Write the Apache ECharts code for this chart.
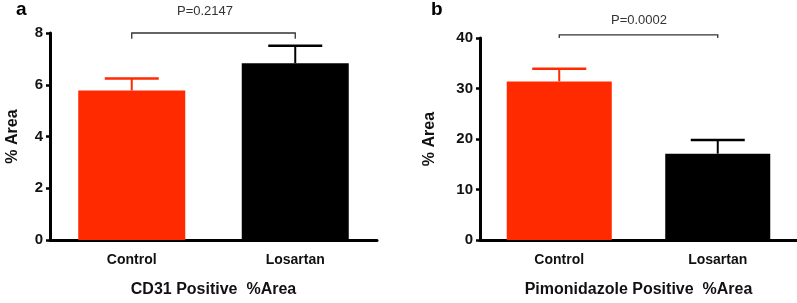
<!DOCTYPE html>
<html>
<head>
<meta charset="utf-8">
<script src="https://cdn.jsdelivr.net/npm/echarts@6/dist/echarts.min.js"></script>
<style>
  html, body { margin: 0; padding: 0; background: #fff; }
  #chart { width: 797px; height: 303px; }
</style>
</head>
<body>
<div id="chart"></div>
<script>
// 数据
var categories = ['Control', 'Losartan'];
var barColors = ['#ff2a00', '#000000'];

var cd31Mean = [5.78, 6.83];
var cd31Err = [0.46, 0.68];
var cd31Ticks = [0, 2, 4, 6, 8];
var cd31P = 'P=0.2147';
var cd31Bracket = [8.0, 7.78];   // 横线高度, 竖脚末端

var pimoMean = [31.4, 17.1];
var pimoErr = [2.5, 2.7];
var pimoTicks = [0, 10, 20, 30, 40];
var pimoP = 'P=0.0002';
var pimoBracket = [40.6, 40.0];

var FONT = '"Liberation Sans", Arial, sans-serif';

var chart = echarts.init(document.getElementById('chart'));

function barData(means) {
    return means.map(function(v, i) {
        return { value: v, itemStyle: { color: barColors[i] } };
    });
}

function errData(means, errs) {
    return means.map(function(v, i) { return [i, v, v + errs[i]]; });
}

// 误差线
function renderErr(params, api) {
    var i = api.value(0);
    var p0 = api.coord([i, api.value(1)]);
    var p1 = api.coord([i, api.value(2)]);
    var color = barColors[i];
    var half = 27;
    return {
        type: 'group',
        children: [
            { type: 'line', shape: { x1: p0[0], y1: p0[1], x2: p1[0], y2: p1[1] },
              style: { stroke: color, lineWidth: 2 } },
            { type: 'line', shape: { x1: p1[0] - half, y1: p1[1], x2: p1[0] + half, y2: p1[1] },
              style: { stroke: color, lineWidth: 2.5 } }
        ]
    };
}

// 显著性括号
function renderBracket(params, api) {
    var a = api.coord([api.value(0), api.value(2)]);
    var b = api.coord([api.value(1), api.value(2)]);
    var a2 = api.coord([api.value(0), api.value(3)]);
    var b2 = api.coord([api.value(1), api.value(3)]);
    return {
        type: 'polyline',
        shape: { points: [[a2[0], a2[1]], [a[0], a[1]], [b[0], b[1]], [b2[0], b2[1]]] },
        style: { stroke: '#333', lineWidth: 1.3, fill: null }
    };
}

function xAxisCfg(gi, name) {
    return {
        type: 'category',
        gridIndex: gi,
        data: categories,
        axisLine: { lineStyle: { color: '#000', width: 3 } },
        axisTick: { alignWithLabel: true, length: 5, lineStyle: { color: '#000', width: 2.5 }, interval: 0 },
        axisLabel: { color: '#111', fontFamily: FONT, fontWeight: 'bold', fontSize: 14, margin: 13 },
        name: name,
        nameLocation: 'middle',
        nameGap: 42,
        nameTextStyle: { color: '#111', fontFamily: FONT, fontWeight: 'bold', fontSize: 16 }
    };
}

function yAxisCfg(gi, ticks, gap) {
    return {
        type: 'value',
        gridIndex: gi,
        min: ticks[0],
        max: ticks[ticks.length - 1],
        interval: ticks[1] - ticks[0],
        splitLine: { show: false },
        axisLine: { show: true, lineStyle: { color: '#000', width: 3 } },
        axisTick: { show: true, length: 4, lineStyle: { color: '#000', width: 2.5 } },
        axisLabel: { color: '#111', fontFamily: FONT, fontWeight: 'bold', fontSize: 15, margin: 7 },
        name: '% Area',
        nameLocation: 'middle',
        nameRotate: 90,
        nameGap: gap,
        nameTextStyle: { color: '#111', fontFamily: FONT, fontWeight: 'bold', fontSize: 16 }
    };
}

var option = {
    animation: false,
    backgroundColor: '#fff',
    grid: [
        { left: 50, top: 33, width: 327, height: 214 },
        { left: 480, top: 38, width: 317, height: 210 }
    ],
    xAxis: [xAxisCfg(0, 'CD31 Positive  %Area'), xAxisCfg(1, 'Pimonidazole Positive  %Area')],
    yAxis: [yAxisCfg(0, cd31Ticks, 29), yAxisCfg(1, pimoTicks, 42)],
    graphic: [
        { type: 'text', left: 16, top: 0, style: { text: 'a', font: 'bold 19px ' + FONT, fill: '#000' } },
        { type: 'text', left: 431, top: 0, style: { text: 'b', font: 'bold 19px ' + FONT, fill: '#000' } },
        { type: 'text', x: 205, y: 11, style: { text: cd31P, font: '13px ' + FONT, fill: '#333', align: 'center', verticalAlign: 'middle' } },
        { type: 'text', x: 639, y: 20, style: { text: pimoP, font: '13px ' + FONT, fill: '#333', align: 'center', verticalAlign: 'middle' } }
    ],
    series: [
        { type: 'bar', xAxisIndex: 0, yAxisIndex: 0, barWidth: 107, data: barData(cd31Mean) },
        { type: 'bar', xAxisIndex: 1, yAxisIndex: 1, barWidth: 105, data: barData(pimoMean) },
        { type: 'custom', xAxisIndex: 0, yAxisIndex: 0, renderItem: renderErr, data: errData(cd31Mean, cd31Err), z: 3 },
        { type: 'custom', xAxisIndex: 1, yAxisIndex: 1, renderItem: renderErr, data: errData(pimoMean, pimoErr), z: 3 },
        { type: 'custom', xAxisIndex: 0, yAxisIndex: 0, renderItem: renderBracket, clip: false,
          data: [[0, 1, cd31Bracket[0], cd31Bracket[1]]] },
        { type: 'custom', xAxisIndex: 1, yAxisIndex: 1, renderItem: renderBracket, clip: false,
          data: [[0, 1, pimoBracket[0], pimoBracket[1]]] }
    ]
};
chart.setOption(option);
</script>
</body>
</html>
